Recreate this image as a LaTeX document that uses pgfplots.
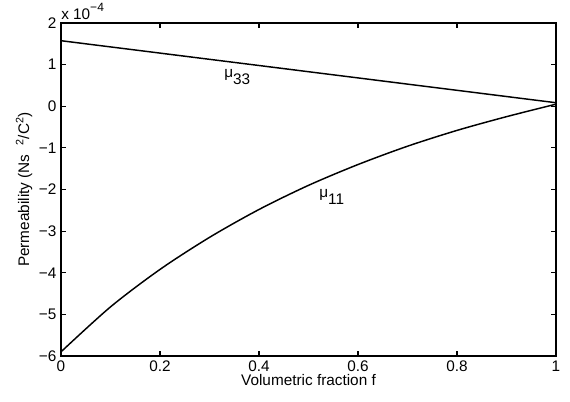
\documentclass[border=0pt]{standalone}
\usepackage{fontspec}
\setmainfont{Liberation Sans}
\usepackage{pgfplots}
\pgfplotsset{compat=1.18}
\begin{document}
\begin{tikzpicture}
\path[use as bounding box] (-45.75pt,-33.75pt) rectangle (381.75pt,267pt);
\begin{axis}[
  at={(0,0)}, anchor=south west,
  scale only axis, width=371.25pt, height=249.75pt,
  xmin=0, xmax=1, ymin=-6, ymax=2,
  xtick={0,0.2,0.4,0.6,0.8,1}, xticklabels={0,0.2,0.4,0.6,0.8,1},
  ytick={-6,-5,-4,-3,-2,-1,0,1,2}, yticklabels={−6,−5,−4,−3,−2,−1,0,1,2},
  scaled ticks=false,
  tick align=inside, major tick length=4pt,
  tick style={line width=0.8pt, black},
  axis line style={line width=1.1pt},
  ticklabel style={font=\fontsize{11.5}{12}\selectfont},
  label style={font=\fontsize{11.5}{12}\selectfont},
  xlabel={Volumetric fraction f},
  ylabel={Permeability (Ns\ \ \textsuperscript{2}/C\textsuperscript{2})},
  xlabel style={yshift=5pt},
  ylabel style={yshift=-2pt},
  clip=false,
]
\addplot[black, line width=1.1pt] coordinates {(0,1.575) (1,0.085)};
\addplot[black, line width=1.1pt, smooth] coordinates {
 (0,-5.90) (0.1,-4.82) (0.2,-3.92) (0.3,-3.15) (0.4,-2.48) (0.5,-1.90)
 (0.6,-1.40) (0.7,-0.96) (0.8,-0.58) (0.9,-0.25) (1.0,0.05)};
\node[font=\fontsize{11.5}{12}\selectfont] at (axis cs:0.356,0.70) {μ\raisebox{-5pt}{33}};
\node[font=\fontsize{11.5}{12}\selectfont] at (axis cs:0.547,-2.18) {μ\raisebox{-5pt}{11}};
\node[anchor=south west, inner sep=0pt, font=\fontsize{11.5}{12}\selectfont] at ([yshift=2pt]rel axis cs:0,1) {x 10\raisebox{6pt}{\fontsize{9}{9}\selectfont −4}};
\end{axis}
\end{tikzpicture}
\end{document}
